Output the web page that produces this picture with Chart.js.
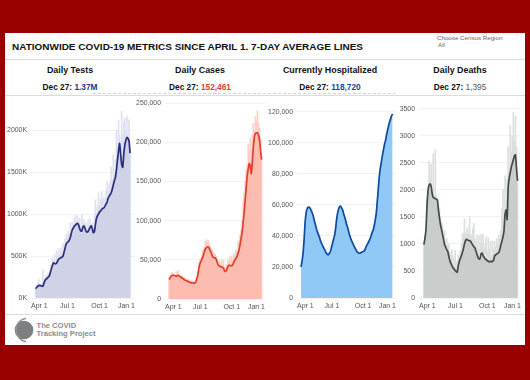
<!DOCTYPE html>
<html lang="en">
<head>
  <meta charset="UTF-8">
  <title>Nationwide COVID-19 Metrics</title>
  <script src="https://cdn.jsdelivr.net/npm/chart.js"></script>
  <style>
    html, body { margin: 0; padding: 0; }
    body { width: 530px; height: 380px; background: #990000; position: relative; overflow: hidden; font-family: "Liberation Sans", Arial, sans-serif; color: #111; }
    #panel { position: absolute; left: 5px; top: 33px; width: 520px; height: 312px; background: #fff; }
    .rule { position: absolute; left: 5px; width: 520px; height: 1px; background: #dcdcdc; }
    .abs { position: absolute; white-space: nowrap; }
    .col { position: absolute; width: 130px; text-align: center; white-space: nowrap; }
    .head { top: 65px; font-size: 8.9px; line-height: 11px; font-weight: bold; }
    .latest { top: 82px; font-size: 8.3px; line-height: 11px; font-weight: bold; }
    #sliver { position: absolute; left: 93px; top: 93px; width: 302px; height: 1px; background: repeating-linear-gradient(90deg, #e6c8c8 0 3px, #fff 3px 5px, #d8d8e0 5px 8px, #fff 8px 10px); }
    canvas { position: absolute; }
  </style>
</head>
<body>
  <div id="panel"></div>
  <div class="rule" style="top:59px"></div>
  <div id="sliver"></div>
  <div class="rule" style="top:95px"></div>
  <div class="rule" style="top:314px"></div>

  <div class="abs" style="left:12px;top:41px;font-size:9.97px;line-height:12px;font-weight:bold">NATIONWIDE COVID-19 METRICS SINCE APRIL 1. 7-DAY AVERAGE LINES</div>
  <div class="abs" style="left:437px;top:34px;font-size:6.2px;line-height:8px;color:#666">Choose Census Region</div>
  <div class="abs" style="left:438px;top:41px;font-size:6.2px;line-height:8px;color:#666">All</div>

  <div class="col head" style="left:5px">Daily Tests</div>
  <div class="col head" style="left:135px">Daily Cases</div>
  <div class="col head" style="left:265px">Currently Hospitalized</div>
  <div class="col head" style="left:395px">Daily Deaths</div>
  <div class="col latest" style="left:5px">Dec 27: <span style="color:#2e3180">1.37M</span></div>
  <div class="col latest" style="left:135px">Dec 27: <span style="color:#e0402a">152,461</span></div>
  <div class="col latest" style="left:265px">Dec 27: <span style="color:#0b4a9e">118,720</span></div>
  <div class="col latest" style="left:395px">Dec 27: <span style="color:#555;font-weight:normal">1,395</span></div>

  <canvas id="testsChart" width="140" height="216" style="left:0;top:96px"></canvas>
  <canvas id="casesChart" width="135" height="216" style="left:135px;top:95px"></canvas>
  <canvas id="hospChart" width="135" height="216" style="left:265px;top:96px"></canvas>
  <canvas id="deathsChart" width="130" height="216" style="left:395px;top:96px"></canvas>

  <svg class="abs" style="left:10px;top:316px" width="28" height="28" viewBox="0 0 28 28">
    <circle cx="14" cy="14" r="9.3" fill="#7c8081"/>
    <path d="M16 2.2 A12 12 0 0 0 16 25.8" fill="none" stroke="#8d9192" stroke-width="1.6"/>
  </svg>
  <div class="abs" style="left:36.5px;top:321.5px;font-size:7.6px;line-height:8px;font-weight:bold;color:#8a8d8e">The COVID<br>Tracking Project</div>

  <script>
    // one sample every 3 days, day 0 = Apr 1, last = Dec 27
    const xLabels = ['Apr 1', 'Jul 1', 'Oct 1', 'Jan 1'];
    const xTickDays = [91, 183];

    const testTicks = [0, 500, 1000, 1500, 2000];
    const testAvg = [113,125,140,148,150,146,143,140,175,210,225,235,250,262,300,345,385,420,412,408,415,440,462,474,480,488,498,540,590,640,660,672,688,720,770,815,838,860,872,885,892,870,830,800,800,845,862,835,800,786,795,820,845,862,830,780,790,880,950,985,1005,1030,1040,1060,1070,1076,1095,1120,1140,1190,1215,1235,1255,1300,1350,1400,1440,1530,1650,1760,1848,1720,1590,1560,1720,1830,1885,1918,1905,1875,1731];
    const testRaw = [115,150,180,219,165,150,180,337,220,225,270,250,300,280,390,370,480,440,520,450,560,500,585,520,600,540,650,600,700,760,720,800,760,904,820,900,880,960,994,920,980,890,950,850,998,900,940,870,900,820,935,860,950,880,900,830,1000,1173,1020,1100,1255,1100,1180,1275,1150,1200,1180,1280,1392,1280,1350,1400,1567,1420,1711,1500,1650,2003,1800,2120,1950,1800,2230,1950,2105,2150,2000,2167,1950,2128,1740];

    const caseTicks = [0, 50000, 100000, 150000, 200000, 250000];
    const caseAvg = [25000,27000,29000,30000,30500,30000,29500,29000,30000,30000,29000,28500,27500,26500,25500,24500,23800,23000,22800,22000,21300,21000,20600,20500,20300,20400,22000,26000,31000,39000,45000,48000,51000,54000,59000,63000,65000,66500,66500,65000,62000,59000,55000,53000,52500,52500,50000,46000,43000,42000,41500,41000,40500,39000,36000,35000,37000,41000,43000,43000,42500,42500,44000,47000,49500,52000,54000,58000,62000,69000,77000,85000,97000,110000,126000,142000,157000,166000,173000,170000,160000,175000,195000,207000,211000,212000,212000,209000,203000,190000,178000];
    const caseRaw = [26000,30000,33000,34000,32000,31000,30000,35000,34000,36000,31000,30000,29000,29000,27000,28000,25000,26000,24000,25000,23000,24000,22000,23000,21000,22000,24000,28000,35000,46000,50000,53000,56000,62000,66000,72000,76000,72000,75000,70000,68000,64000,62000,58000,59000,57000,54000,50000,46000,48000,44000,50000,45000,50000,40000,40000,44000,50000,47000,54000,49000,55000,50000,58000,55000,62000,62000,72000,75000,82000,88000,100000,125000,135000,150000,165000,172000,197000,190000,205000,190000,210000,224000,215000,233000,228000,240000,225000,218000,205000,180000];

    const hospTicks = [0, 20000, 40000, 60000, 80000, 100000, 120000];
    const hospAvg = [20000,24000,29000,38000,49000,55000,57500,58500,58500,57800,56500,54800,52800,50000,47500,45000,42800,41000,39500,37000,35500,34000,32700,31300,30000,28800,28000,28000,29000,30300,33000,35500,38000,40500,45000,51000,55000,57500,59000,59200,58000,56500,54000,52000,49500,47000,45000,42300,40000,38000,36500,35000,33600,32300,31000,30000,29300,28900,28900,29300,29600,30000,30200,31500,33200,34500,35600,37000,38500,40500,42500,44000,47000,50500,55000,63000,71000,79000,84000,88000,92000,95500,99000,101500,105000,108000,111000,113500,115500,117500,118700];

    const deathTicks = [0, 500, 1000, 1500, 2000, 2500, 3000, 3500];
    const deathAvg = [990,1100,1262,1700,1980,2090,2110,2070,1930,1860,1850,1840,1825,1815,1630,1480,1355,1265,1170,1080,980,940,890,860,770,690,640,600,560,540,510,495,476,590,670,730,780,840,910,1000,1060,1085,1075,1065,1060,1050,1010,980,950,930,870,810,750,720,730,820,830,780,750,720,710,690,680,670,680,670,680,700,780,800,810,830,840,900,980,1050,1130,1240,1550,1630,1450,2050,2220,2320,2420,2490,2560,2630,2650,2400,2170];
    const deathRaw = [1000,1150,1300,1850,2050,2535,2200,2480,2000,2668,1900,2740,1900,1850,1700,1650,1500,1400,1350,1200,1250,1050,1100,950,1000,850,800,900,760,720,880,660,690,800,750,880,1000,1180,1200,1470,1180,1250,1300,1180,1500,1180,1150,1280,1380,1100,1050,1170,900,1160,1000,1175,1000,1180,900,1020,1130,850,1120,900,1050,800,1060,900,1050,950,1100,1000,1170,1100,1250,1650,2010,1500,2260,1800,2200,2800,2400,3195,2700,3000,3440,2900,3360,2800,2200];

    // build one panel: pale daily bars, filled 7-day average on top
    function drawPanel(id, avg, raw, ticks, opts) {
      const points = vals => vals.map((v, i) => ({ x: i * 3, y: v }));
      const datasets = [{
        type: 'line',
        data: points(avg),
        borderColor: opts.line,
        borderWidth: 1.7,
        backgroundColor: opts.fill,
        fill: 'origin',
        pointRadius: 0,
        tension: 0.2,
        order: 1
      }];
      if (raw) {
        datasets.push({
          type: 'bar',
          data: points(raw),
          backgroundColor: opts.spike,
          barThickness: 1,
          order: 2
        });
      }
      new Chart(document.getElementById(id), {
        data: { datasets },
        options: {
          responsive: false,
          animation: false,
          layout: { padding: { top: opts.top, right: opts.right } },
          plugins: { legend: { display: false }, tooltip: { enabled: false } },
          scales: {
            x: {
              type: 'linear',
              offset: false,
              min: opts.xMin,
              max: opts.xMax,
              grid: { display: false, drawTicks: false },
              border: { display: false },
              afterBuildTicks: s => { s.ticks = [opts.xMin, ...xTickDays, opts.xMax].map(v => ({ value: v })); },
              afterFit: s => { s.height = opts.bottom; },
              ticks: {
                autoSkip: false,
                maxRotation: 0,
                align: 'inner',
                padding: 4,
                color: '#555',
                font: { size: 7, family: '"Liberation Sans", Arial, sans-serif' },
                callback: (v, i) => xLabels[i]
              }
            },
            y: {
              min: 0,
              max: opts.yMax,
              grid: { color: '#f2f2f2', drawTicks: false },
              border: { display: false },
              afterBuildTicks: s => { s.ticks = ticks.map(v => ({ value: v })); },
              afterFit: s => { s.width = opts.left; },
              ticks: {
                padding: 4,
                color: '#555',
                font: { size: 6.9, family: '"Liberation Sans", Arial, sans-serif' },
                callback: opts.format
              }
            }
          }
        }
      });
    }

    const withCommas = v => v.toLocaleString('en-US');

    drawPanel('testsChart', testAvg, testRaw, testTicks, {
      line: '#2b2d7e', fill: '#d0d2e8', spike: '#dfe0ef',
      left: 31, right: 5, top: 4, bottom: 14, xMin: -13, xMax: 284, yMax: 2316,
      format: v => v + 'K'
    });
    drawPanel('casesChart', caseAvg, caseRaw, caseTicks, {
      line: '#e0402a', fill: '#fdbcb0', spike: '#fdd0c7',
      left: 30, right: 5, top: 4, bottom: 12, xMin: -12, xMax: 280, yMax: 250000,
      format: withCommas
    });
    drawPanel('hospChart', hospAvg, null, hospTicks, {
      line: '#0b4a9e', fill: '#90c8f6', spike: '#90c8f6',
      left: 32, right: 1, top: 4, bottom: 14, xMin: -12, xMax: 280, yMax: 125000,
      format: withCommas
    });
    drawPanel('deathsChart', deathAvg, deathRaw, deathTicks, {
      line: '#444a4a', fill: '#c9cecd', spike: '#dcdfde',
      left: 24, right: 1, top: 4, bottom: 14, xMin: -14, xMax: 280, yMax: 3587,
      format: v => String(v)
    });
  </script>
</body>
</html>
